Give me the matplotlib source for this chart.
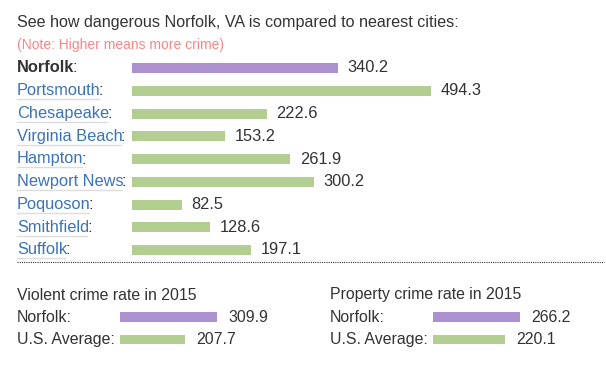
import matplotlib.pyplot as plt
from matplotlib.transforms import blended_transform_factory

plt.rcParams['font.family'] = 'Liberation Sans'

cities = ['Norfolk', 'Portsmouth', 'Chesapeake', 'Virginia Beach', 'Hampton',
          'Newport News', 'Poquoson', 'Smithfield', 'Suffolk']
index = [340.2, 494.3, 222.6, 153.2, 261.9, 300.2, 82.5, 128.6, 197.1]

rate_rows = ['Norfolk', 'U.S. Average']
violent = [309.9, 207.7]
property_ = [266.2, 220.1]

purple = '#ad91cf'
green = '#b2cf91'
link = '#3b73b9'
ink = '#333333'

W, H = 606, 369
fig = plt.figure(figsize=(W / 100, H / 100), dpi=100)


def px_axes(x0, y0, x1, y1):
    # axes placed in pixel coords measured from top-left
    return fig.add_axes([x0 / W, 1 - y1 / H, (x1 - x0) / W, (y1 - y0) / H])


fig.text(17 / W, 1 - 22 / H, 'See how dangerous Norfolk, VA is compared to nearest cities:',
         fontsize=11.6, color=ink, va='center')
fig.text(17 / W, 1 - 45 / H, '(Note: Higher means more crime)',
         fontsize=10, color='#ff8585', va='center')

# main bars
step = 22.75
fs = 11.8
ax = px_axes(132, 68 - step / 2, 132 + 783 * 0.605, 250 + step / 2)
ax.set_xlim(0, 783)
ax.set_ylim(len(cities) - 0.5, -0.5)
cols = [purple] + [green] * (len(cities) - 1)
ax.barh(range(len(cities)), index, height=10 / step, color=cols)
tr = blended_transform_factory(fig.transFigure, ax.transData)
fig.canvas.draw()
renderer = fig.canvas.get_renderer()
for i, (c, v) in enumerate(zip(cities, index)):
    ax.annotate(f'{v}', (v, i), xytext=(7, 0), textcoords='offset points',
                va='center', fontsize=fs, color=ink)
    if i == 0:
        t = ax.text(17 / W, i, c, transform=tr, va='center', fontsize=fs,
                    color=ink, fontweight='bold')
    else:
        t = ax.text(17 / W, i, c, transform=tr, va='center', fontsize=fs, color=link)
    bb = t.get_window_extent(renderer)
    x_end = bb.x1 - 2  # bbox runs a bit past the glyphs
    ax.annotate(':', (x_end, bb.y0 + bb.height / 2), xycoords='figure pixels',
                va='center', fontsize=fs, color=ink)
    if i > 0:
        ax.plot([bb.x0 / W, x_end / W], [i + 0.37, i + 0.37], transform=tr,
                color='#dcdcdc', lw=1, clip_on=False)
ax.axis('off')

# dotted separator
fig.add_artist(plt.Line2D([17 / W, 604 / W], [1 - 261.5 / H] * 2,
                          transform=fig.transFigure, color='#333333', lw=0.8,
                          linestyle=(0, (1, 1))))


def rate_block(x_lab, x_bar, scale, title, vals):
    fig.text(x_lab / W, 1 - 295 / H, title, fontsize=11.4, color=ink, va='center')
    rstep = 22.5
    a = px_axes(x_bar, 317 - rstep / 2, x_bar + 500 * scale, 339.5 + rstep / 2)
    a.set_xlim(0, 500)
    a.set_ylim(1.5, -0.5)
    a.barh(range(len(vals)), vals, height=9.5 / rstep, color=[purple, green])
    trb = blended_transform_factory(fig.transFigure, a.transData)
    for i, (r, v) in enumerate(zip(rate_rows, vals)):
        a.text(x_lab / W, i, r + ':', transform=trb, va='center', fontsize=11.4, color=ink)
        a.annotate(f'{v}', (v, i), xytext=(8, 0), textcoords='offset points',
                   va='center', fontsize=11.4, color=ink)
    a.axis('off')


rate_block(17, 120, 0.314, 'Violent crime rate in 2015', violent)
rate_block(330, 433, 0.326, 'Property crime rate in 2015', property_)

fig.savefig('out.png', dpi=100)
